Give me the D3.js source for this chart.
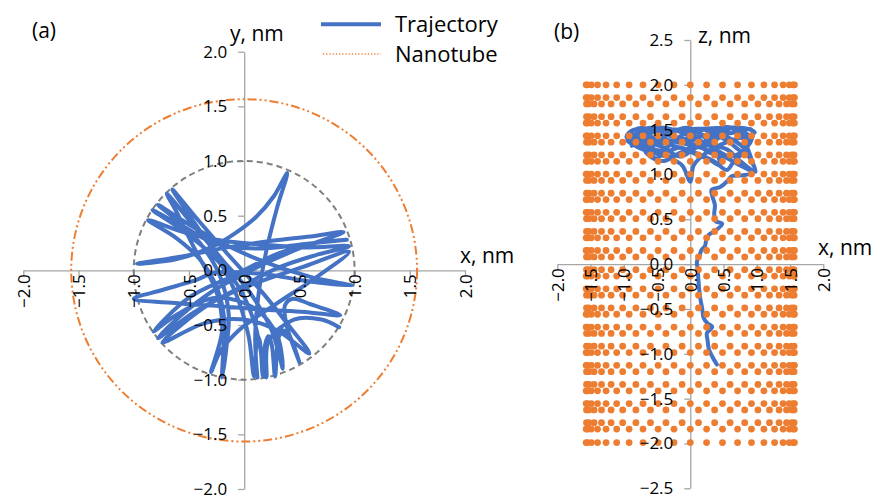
<!DOCTYPE html>
<html><head><meta charset="utf-8">
<script src="https://cdn.jsdelivr.net/npm/d3@7"></script>
<style>
body{margin:0;background:#fff}
svg text{font-family:"Open Sans",sans-serif;fill:#000}
</style></head><body>
<svg id="chart" width="875" height="498"></svg>
<script>
// ---- data ----
const ticksA = [-2, -1.5, -1, -0.5, 0, 0.5, 1, 1.5, 2];
const ticksBx = [-2, -1.5, -1, -0.5, 0, 0.5, 1, 1.5, 2];
const ticksBz = [-2.5, -2, -1.5, -1, -0.5, 0, 0.5, 1, 1.5, 2, 2.5];

const tubeRadius = 1.566;   // nm
const poreRadius = 1.0;     // nm

// x positions of the two atom column sets of the tube wall (projection on x)
const tubeColsA = [1.566, 1.547, 1.489, 1.395, 1.267, 1.107, 0.920, 0.711, 0.484, 0.245, 0,
  -0.245, -0.484, -0.711, -0.920, -1.107, -1.267, -1.395, -1.489, -1.547, -1.566];
const tubeColsB = [1.561, 1.523, 1.447, 1.335, 1.191, 1.017, 0.818, 0.599, 0.366, 0.123,
  -0.123, -0.366, -0.599, -0.818, -1.017, -1.191, -1.335, -1.447, -1.523, -1.561];
// z of each atom ring and which column set it uses
const tubeRowZ = [2.0, 1.858, 1.787, 1.645, 1.574, 1.431, 1.360, 1.218, 1.147, 1.005, 0.934,
  0.791, 0.720, 0.578, 0.507, 0.365, 0.294, 0.152, 0.081, -0.062, -0.133, -0.275, -0.346,
  -0.488, -0.559, -0.702, -0.773, -0.915, -0.986, -1.128, -1.199, -1.342, -1.413, -1.555,
  -1.626, -1.768, -1.839, -1.99];
const tubeRowSet = "AABBAABBAABBAABBAABBAABBAABBAABBAABBAA";

// trajectory projected on the xy plane (nm)
const trajectoryXY = [
  [0.12,-0.98],[0.10,-0.62],[0.13,-0.22],[0.21,0.22],[0.30,0.58],[0.39,0.89],
  [0.27,0.68],[0.11,0.49],[-0.08,0.34],[-0.30,0.21],[-0.62,0.10],[-0.97,0.06],
  [-0.55,0.13],[-0.15,0.21],[0.25,0.27],[0.60,0.31],[0.90,0.35],
  [0.50,0.20],[0.10,0.02],[-0.30,-0.20],[-0.58,-0.42],[-0.78,-0.62],
  [-0.45,-0.38],[-0.10,-0.19],[0.30,0.02],[0.65,0.14],[0.95,0.22],
  [0.55,0.21],[0.10,0.24],[-0.25,0.28],[-0.55,0.35],[-0.87,0.46],
  [-0.62,0.30],[-0.40,0.10],[-0.25,-0.15],[-0.18,-0.45],[-0.19,-0.75],[-0.20,-0.98],
  [-0.16,-0.70],[-0.14,-0.40],[-0.22,-0.05],[-0.40,0.25],[-0.60,0.45],[-0.78,0.60],
  [-0.50,0.42],[-0.20,0.25],[0.20,0.07],[0.60,-0.06],[0.98,-0.14],
  [0.52,-0.09],[0.22,-0.04],[-0.26,-0.02],[-0.44,-0.09],[-0.74,-0.18],[-1.0,-0.26],
  [-0.60,-0.30],[-0.20,-0.33],[0.20,-0.36],[0.55,-0.38],[0.87,-0.41],
  [0.60,-0.31],[0.44,-0.26],[0.37,-0.32],[0.38,-0.48],[0.43,-0.65],[0.50,-0.84],
  [0.40,-0.58],[0.35,-0.55],[0.31,-0.62],[0.28,-0.97],
  [0.25,-0.68],[0.22,-0.60],[0.19,-0.68],[0.17,-0.97],
  [0.14,-0.64],[0.12,-0.60],[0.09,-0.97],
  [0.04,-0.60],[-0.08,-0.20],[-0.28,0.18],[-0.48,0.48],[-0.65,0.74],
  [-0.45,0.50],[-0.15,0.15],[0.18,-0.22],[0.40,-0.50],[0.59,-0.76],
  [0.30,-0.55],[0.0,-0.45],[-0.35,-0.48],[-0.74,-0.66],
  [-0.30,-0.30],[0.10,-0.12],[0.50,0.02],[0.95,0.17],
  [0.60,-0.10],[0.30,-0.30],[-0.05,-0.55],[-0.22,-0.75],[-0.30,-0.93],
  [-0.20,-0.55],[-0.25,-0.20],[-0.45,0.20],[-0.62,0.55],[-0.70,0.70],
  [-0.45,0.40],[-0.20,0.10],[0.05,-0.20],[0.25,-0.55],[0.35,-0.90],
  [0.30,-0.60],[0.10,-0.35],[-0.25,-0.25],[-0.60,-0.40],[-0.82,-0.56],
  [-0.50,-0.25],[-0.10,-0.05],[0.30,0.15],[0.65,0.25],[0.93,0.28],
  [0.55,0.24],[0.15,0.20],[-0.25,0.24],[-0.55,0.40],[-0.83,0.55],
  [-0.58,0.38],[-0.30,0.15],[-0.05,-0.15],[0.10,-0.50],[0.20,-0.98],
  [0.22,-0.65],[0.45,-0.45],[0.70,-0.45],[0.86,-0.52]
];

// trajectory projected on the xz plane (nm)
const trajectoryXZ = [
  [0.40,-1.12],[0.33,-1.03],[0.28,-0.95],[0.26,-0.85],[0.25,-0.77],[0.33,-0.70],[0.26,-0.66],
  [0.20,-0.60],[0.18,-0.50],[0.15,-0.38],[0.13,-0.25],[0.12,-0.15],[0.11,-0.05],[0.10,0.03],
  [0.14,0.10],[0.17,0.16],[0.22,0.20],[0.24,0.27],[0.28,0.33],[0.35,0.36],[0.48,0.45],
  [0.38,0.48],[0.36,0.56],[0.37,0.66],[0.33,0.76],[0.32,0.83],[0.45,0.86],[0.55,0.92],
  [0.62,0.98],[0.78,0.99],[0.93,1.02],
  [0.70,1.12],[0.45,1.22],[0.15,1.30],[-0.20,1.36],[-0.55,1.40],[-0.80,1.41],[-0.95,1.38],
  [-0.78,1.30],[-0.55,1.24],[-0.30,1.18],[-0.12,1.10],[0.0,0.92],[0.05,1.10],[0.2,1.22],
  [0.45,1.33],[0.7,1.40],[0.88,1.43],[0.97,1.47],
  [0.80,1.52],[0.50,1.52],[0.10,1.51],[-0.35,1.50],[-0.70,1.48],[-0.88,1.42],
  [-0.65,1.36],[-0.40,1.30],[-0.15,1.20],[0.05,1.28],[0.30,1.40],[0.55,1.50],[0.70,1.52],
  [0.85,1.38],[0.80,1.25],[0.65,1.14],[0.55,1.05],
  [0.35,1.15],[0.05,1.25],[-0.30,1.33],[-0.60,1.38],[-0.85,1.36],
  [-0.70,1.50],[-0.40,1.52],[-0.10,1.46],[0.15,1.38],[0.40,1.27],[0.62,1.20],[0.90,1.35],[0.92,1.50],
  [0.60,1.46],[0.25,1.44],[-0.10,1.40],[-0.45,1.46],[-0.75,1.52],[-0.90,1.46],
  [-0.60,1.42],[-0.30,1.38],[0.0,1.34],[0.30,1.32],[0.55,1.28],[0.75,1.15],[0.98,1.03],
  [0.80,1.30],[0.60,1.40],[0.40,1.46],[0.20,1.50],[0.0,1.44],[-0.20,1.50],[-0.40,1.42],
  [-0.60,1.50],[-0.80,1.44],[-0.92,1.40],[-0.75,1.34],[-0.55,1.28],[-0.35,1.26],[-0.15,1.30],
  [0.10,1.22],[0.30,1.16],[0.45,1.10],[0.35,1.30],[0.15,1.45],[-0.05,1.52],[-0.30,1.46],
  [-0.50,1.36],[-0.70,1.30],[-0.60,1.20],[-0.40,1.15],[-0.20,1.22],[0.0,1.30],[0.2,1.36],
  [0.42,1.42],[0.6,1.35],[0.72,1.28],[0.88,1.20],[0.95,1.10],
  [0.75,1.45],[0.55,1.53],[0.35,1.48],[0.15,1.42],[-0.05,1.36],[-0.25,1.42],[-0.45,1.52],
  [-0.65,1.44],[-0.85,1.50],[-0.96,1.42],[-0.80,1.36],[-0.65,1.26],[-0.50,1.18],[-0.35,1.30],
  [-0.20,1.40],[0.0,1.48],[0.20,1.44],[0.35,1.38],[0.50,1.45],[0.62,1.52],[0.78,1.48],
  [0.90,1.42],[0.85,1.30],[0.70,1.22],[0.50,1.20],[0.30,1.24],[0.10,1.32],[-0.10,1.26],
  [-0.30,1.20],[-0.50,1.26],[-0.70,1.36],[-0.88,1.32]
];

const legendItems = ["Trajectory", "Nanotube"];

// ---- styles ----
const blue = "#4472C4", orange = "#ED7D31", axisGrey = "#A6A6A6";
const fmt = d3.format(".1f");

const svg = d3.select("#chart");

// ---- scales ----
const xA = d3.scaleLinear().domain([-2, 2]).range([23.3, 465]);
const yA = d3.scaleLinear().domain([-2, 2]).range([489, 51.7]);
const xB = d3.scaleLinear().domain([-2, 2]).range([557.3, 823.3]);
const yB = d3.scaleLinear().domain([-2.5, 2.5]).range([488.3, 40]);

// axis lines and tick marks (drawn under the data)
function axisLines(parent, x, y, xt, yt) {
  const g = parent.append("g");
  g.append("g").attr("transform", `translate(0,${y(0)})`)
    .call(d3.axisBottom(x).tickValues(xt).tickSize(6).tickSizeOuter(0).tickFormat(""));
  g.append("g").attr("transform", `translate(${x(0)},0)`)
    .call(d3.axisLeft(y).tickValues(yt).tickSize(6).tickSizeOuter(0).tickFormat(""));
  g.selectAll(".domain, .tick line").attr("stroke", axisGrey).attr("stroke-width", 1.3);
}
// tick labels (drawn over the data)
function axisLabels(parent, x, y, xt, yt) {
  const g = parent.append("g");
  const gx = g.append("g").attr("transform", `translate(0,${y(0)})`)
    .call(d3.axisBottom(x).tickValues(xt).tickSize(0).tickFormat(fmt));
  gx.selectAll("text").attr("transform", "rotate(-90)").attr("x", -4).attr("y", 0)
    .attr("dy", "0.36em").attr("text-anchor", "end");
  g.append("g").attr("transform", `translate(${x(0)},0)`)
    .call(d3.axisLeft(y).tickValues(yt).tickSize(0).tickPadding(17).tickFormat(fmt));
  g.selectAll(".domain, .tick line").remove();
  g.selectAll("text").attr("font-size", 17).attr("font-family", "'Open Sans', sans-serif").attr("fill", "#000");
}

// ---- panel (a): xy projection ----
const pa = svg.append("g");
axisLines(pa, xA, yA, ticksA, ticksA);

pa.append("ellipse")
  .attr("cx", xA(0)).attr("cy", yA(0))
  .attr("rx", xA(poreRadius) - xA(0)).attr("ry", yA(0) - yA(poreRadius))
  .attr("fill", "none").attr("stroke", "#7F7F7F").attr("stroke-width", 2)
  .attr("stroke-dasharray", "6,4");

pa.append("ellipse")
  .attr("cx", xA(0)).attr("cy", yA(0))
  .attr("rx", xA(tubeRadius) - xA(0)).attr("ry", yA(0) - yA(tubeRadius))
  .attr("fill", "none").attr("stroke", orange).attr("stroke-width", 2)
  .attr("stroke-dasharray", "9,3,2,3,2,3");

const lineA = d3.line().x(d => xA(d[0])).y(d => yA(d[1])).curve(d3.curveCatmullRom.alpha(0.5));
pa.append("path").datum(trajectoryXY).attr("d", lineA)
  .attr("fill", "none").attr("stroke", blue).attr("stroke-width", 4)
  .attr("stroke-linejoin", "round").attr("stroke-linecap", "round");

axisLabels(pa, xA, yA, ticksA, ticksA);

pa.append("text").attr("x", 32).attr("y", 38).attr("font-size", 21).text("(a)");
pa.append("text").attr("x", 230).attr("y", 41).attr("font-size", 21).text("y, nm");
pa.append("text").attr("x", 460).attr("y", 263).attr("font-size", 21).text("x, nm");

// ---- panel (b): xz projection ----
const pb = svg.append("g");
axisLines(pb, xB, yB, ticksBx, ticksBz);

const lineB = d3.line().x(d => xB(d[0])).y(d => yB(d[1])).curve(d3.curveCatmullRom.alpha(0.5));
pb.append("path").datum(trajectoryXZ).attr("d", lineB)
  .attr("fill", "none").attr("stroke", blue).attr("stroke-width", 4)
  .attr("stroke-linejoin", "round").attr("stroke-linecap", "round");

const atoms = tubeRowZ.flatMap((z, i) =>
  (tubeRowSet[i] === "A" ? tubeColsA : tubeColsB).map(x => ({ x, z })));
pb.append("g").selectAll("circle").data(atoms).join("circle")
  .attr("cx", d => xB(d.x)).attr("cy", d => yB(d.z)).attr("r", 3.4)
  .attr("fill", orange);

axisLabels(pb, xB, yB, ticksBx, ticksBz);

pb.append("text").attr("x", 554).attr("y", 39).attr("font-size", 21).text("(b)");
pb.append("text").attr("x", 698).attr("y", 43).attr("font-size", 21).text("z, nm");
pb.append("text").attr("x", 818).attr("y", 255).attr("font-size", 21).text("x, nm");

// ---- legend ----
const lg = svg.append("g");
lg.append("line").attr("x1", 321).attr("x2", 381).attr("y1", 24.3).attr("y2", 24.3)
  .attr("stroke", blue).attr("stroke-width", 4);
lg.append("line").attr("x1", 323).attr("x2", 381).attr("y1", 54).attr("y2", 54)
  .attr("stroke", orange).attr("stroke-width", 1.5).attr("stroke-dasharray", "1.2,2");
lg.selectAll("text").data(legendItems).join("text")
  .attr("x", 395).attr("y", (d, i) => 31.5 + i * 30.8)
  .attr("font-size", 22).text(d => d);
</script></body></html>
